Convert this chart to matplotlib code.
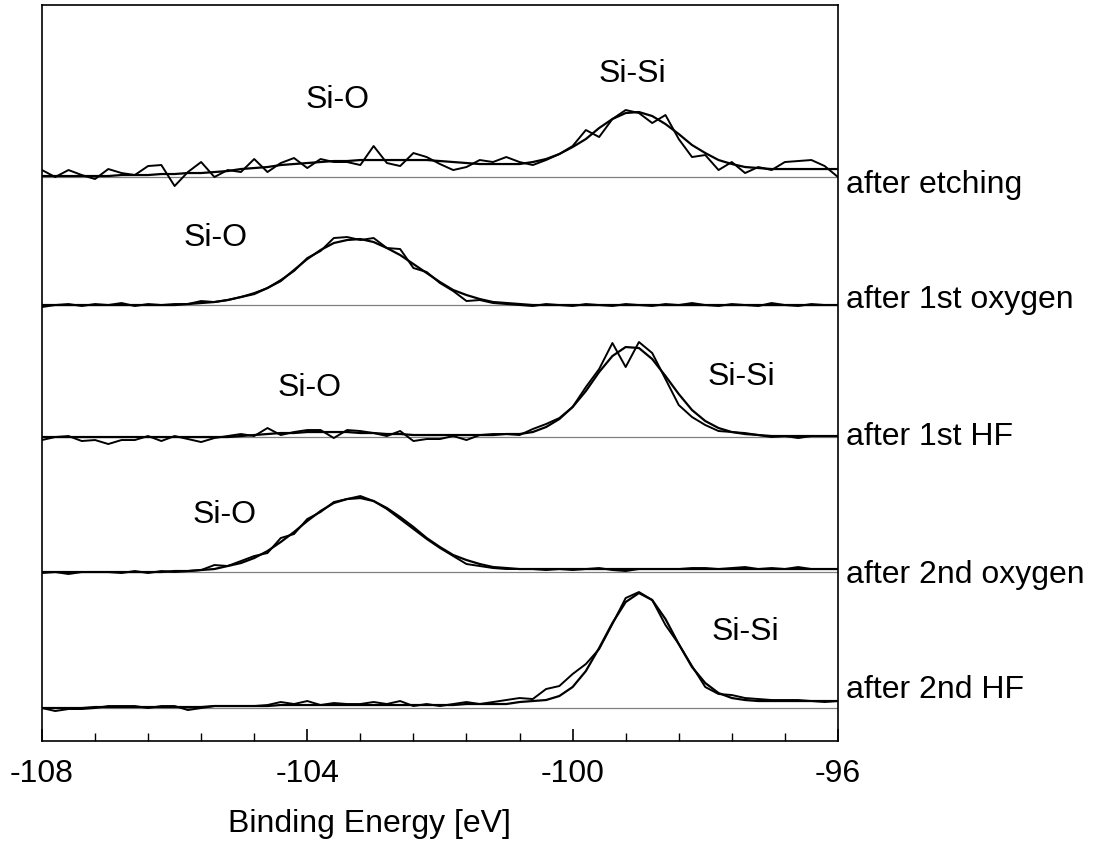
import numpy as np
import matplotlib.pyplot as plt
from matplotlib import transforms

plt.rcParams['font.family'] = ['Liberation Sans', 'DejaVu Sans']
plt.rcParams['axes.unicode_minus'] = False

# binding energy grid (eV), 0.2 eV steps
energy = np.round(np.arange(61) * 0.2 - 108.0, 1)

# spectrum names (top to bottom) and vertical offsets of each trace
names = ["after etching", "after 1st oxygen", "after 1st HF", "after 2nd oxygen", "after 2nd HF"]
offsets = [564, 436, 304, 169, 33]
name_y = [556, 441, 304, 166, 51]

# measured intensities (arb. units, above baseline)
etch_data = [7, 0, 7, 2, -2, 8, 4, 2, 11, 12, -9, 5, 15, 0, 7, 5, 18, 5, 14, 19,
             9, 18, 15, 15, 12, 31, 14, 11, 24, 20, 13, 7, 10, 17, 15, 20, 15, 12, 17, 23,
             31, 47, 40, 58, 67, 64, 54, 62, 38, 20, 22, 7, 15, 4, 10, 7, 15, 16, 17, 11, 0]
oxy1_data = [-2, 0, 1, -1, 1, 0, 2, -1, 1, 0, 1, 1, 4, 3, 5, 8, 12, 17, 25, 34,
             47, 54, 67, 68, 65, 67, 57, 56, 37, 33, 22, 14, 4, 5, 2, 1, 0, -1, 1, 0,
             -1, 1, 0, -1, 1, 0, -1, 1, 0, 2, 0, -1, 1, 0, -1, 2, 0, -1, 1, 0, 0]
hf1_data = [-3, 0, 1, -4, -3, -7, -3, -3, 1, -4, 1, -2, -5, -1, 1, 3, 1, 9, 2, 5,
            7, 7, -1, 7, 6, 4, 1, 6, -4, -2, -2, 1, -3, 2, 3, 3, 2, 8, 13, 19,
            30, 50, 68, 94, 70, 95, 84, 58, 32, 20, 12, 6, 5, 4, 2, 0, 1, -1, 1, 1, 1]
oxy2_data = [-1, 0, -2, 0, 0, 0, -1, 1, -1, 1, 0, 1, 2, 7, 6, 11, 16, 19, 34, 38,
             53, 60, 70, 73, 76, 71, 63, 53, 43, 33, 24, 16, 8, 6, 4, 3, 3, 3, 2, 3,
             2, 3, 4, 2, 1, 3, 3, 3, 3, 4, 4, 3, 4, 5, 3, 4, 3, 5, 3, 3, 3]
hf2_data = [0, -3, -1, -1, 0, 2, 2, 2, 0, 2, 2, -2, 0, 2, 2, 2, 2, 3, 6, 4,
            7, 3, 5, 4, 4, 6, 4, 7, 2, 4, 2, 4, 6, 4, 6, 8, 10, 9, 19, 22,
            34, 44, 59, 84, 110, 116, 108, 83, 64, 42, 21, 14, 13, 10, 9, 8, 8, 8, 7, 6, 7]

# fitted envelopes
etch_fit = [1, 1, 1, 1, 1, 1, 2, 2, 2, 3, 3, 4, 4, 5, 6, 8, 9, 10, 12, 13,
            14, 15, 16, 16, 17, 17, 17, 17, 17, 17, 16, 15, 14, 13, 13, 13, 13, 15, 18, 23,
            30, 38, 49, 58, 64, 65, 61, 53, 43, 32, 24, 17, 13, 10, 9, 8, 8, 8, 8, 8, 8]
oxy1_fit = [0, 0, 0, 0, 0, 0, 0, 0, 0, 0, 0, 1, 2, 3, 5, 8, 11, 17, 24, 35,
            46, 55, 62, 65, 66, 63, 57, 50, 41, 32, 23, 15, 10, 6, 3, 2, 1, 0, 0, 0,
            0, 0, 0, 0, 0, 0, 0, 0, 0, 0, 0, 0, 0, 0, 0, 0, 0, 0, 0, 0, 0]
hf1_fit = [0, 0, 0, 0, 0, 0, 0, 0, 0, 0, 0, 0, 0, 0, 0, 1, 2, 3, 4, 4,
           5, 5, 5, 5, 4, 4, 3, 3, 2, 2, 2, 2, 2, 2, 2, 3, 3, 5, 10, 18,
           30, 46, 65, 81, 90, 89, 78, 61, 43, 27, 16, 9, 5, 3, 2, 1, 1, 1, 1, 1, 1]
oxy2_fit = [0, 0, 0, 0, 0, 0, 0, 0, 0, 0, 1, 1, 2, 3, 6, 9, 14, 21, 30, 40,
            51, 61, 69, 73, 74, 71, 64, 55, 45, 34, 25, 17, 12, 8, 5, 4, 3, 3, 3, 3,
            3, 3, 3, 3, 3, 3, 3, 3, 3, 3, 3, 3, 3, 3, 3, 3, 3, 3, 3, 3, 3]
hf2_fit = [0, 0, 0, 0, 1, 1, 1, 1, 1, 1, 1, 1, 1, 2, 2, 2, 2, 2, 3, 3,
           3, 3, 3, 3, 3, 3, 3, 3, 3, 3, 3, 3, 4, 4, 4, 4, 6, 7, 8, 12,
           21, 37, 60, 85, 106, 115, 108, 89, 64, 41, 25, 15, 10, 8, 7, 7, 7, 7, 7, 7, 7]

all_data = [etch_data, oxy1_data, hf1_data, oxy2_data, hf2_data]
all_fit = [etch_fit, oxy1_fit, hf1_fit, oxy2_fit, hf2_fit]

# peak annotations
peak_text = ["Si-O", "Si-Si", "Si-O", "Si-O", "Si-Si", "Si-O", "Si-Si"]
peak_e = [-103.54, -99.10, -105.39, -103.96, -97.45, -105.24, -97.39]
peak_y = [641, 667, 503, 353, 364, 226, 109]

fig = plt.figure(figsize=(11.04, 8.67), dpi=100)
ax = fig.add_axes([0.038, 0.1453, 0.7210, 0.8489])

for off, d, f in zip(offsets, all_data, all_fit):
    ax.axhline(off, color='0.5', lw=0.9, zorder=1)
    ax.plot(energy, np.array(f) + off, color='black', lw=1.6, zorder=2)
    ax.plot(energy, np.array(d) + off, color='black', lw=1.4, zorder=3)

for t, e, y in zip(peak_text, peak_e, peak_y):
    ax.text(e, y, t, ha='center', va='center', fontsize=23)

trans = ax.get_yaxis_transform()
for n, y in zip(names, name_y):
    ax.text(1.01, y, n, transform=trans, ha='left', va='center', fontsize=23)

ax.set_xlim(-108, -96)
ax.set_ylim(0, 736)
ax.set_yticks([])
ax.set_xticks([-108, -104, -100, -96])
ax.set_xticks(np.arange(-108, -95.9, 0.8), minor=True)
ax.tick_params(axis='x', which='major', direction='in', length=9, width=1.2,
               labelsize=23, pad=13)
ax.tick_params(axis='x', which='minor', direction='in', length=6, width=1.0)
for sp in ax.spines.values():
    sp.set_linewidth(1.2)

ax.set_xlabel("Binding Energy [eV]", fontsize=23)
ax.xaxis.set_label_coords(0.412, -0.093)

fig.savefig("out.png", dpi=100)
